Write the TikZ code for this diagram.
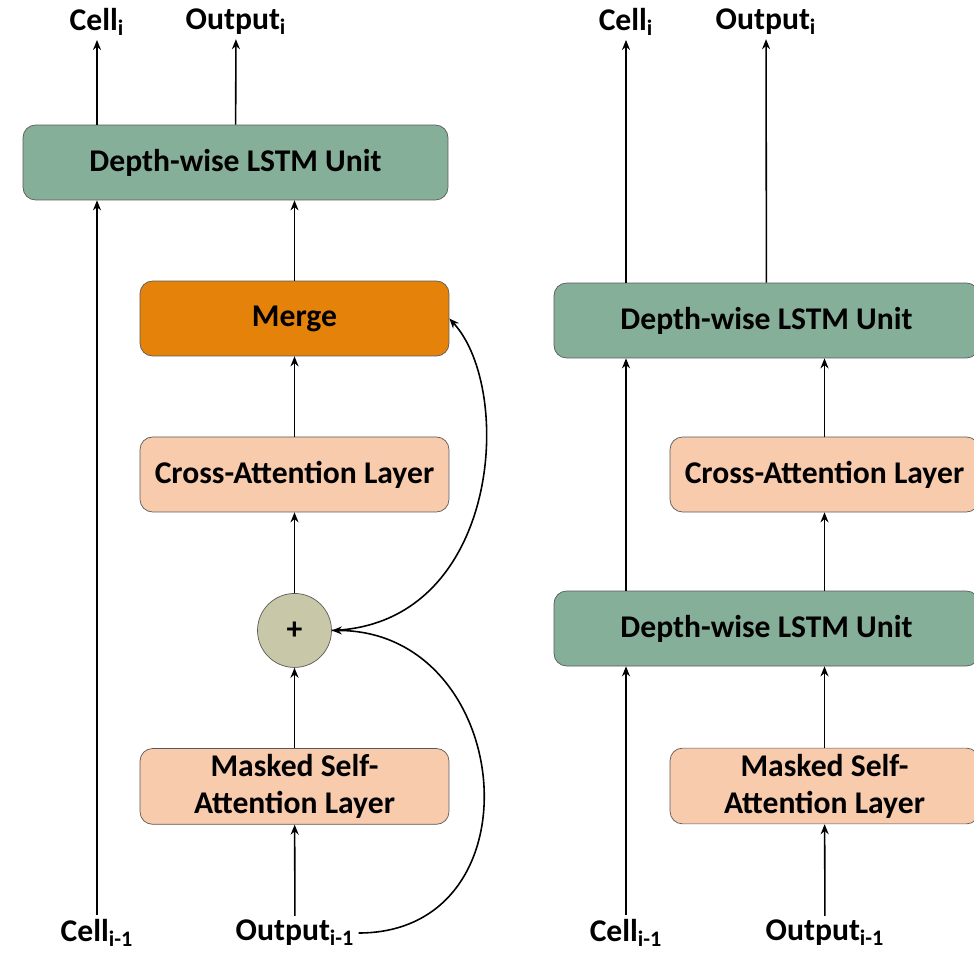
\documentclass[tikz,border=0pt]{standalone}
\usepackage{fontspec}
\setmainfont{Carlito}
\usetikzlibrary{positioning,arrows.meta}

\definecolor{lstmgreen}{RGB}{134,175,154}
\definecolor{mergeorange}{RGB}{229,130,10}
\definecolor{attnpeach}{RGB}{248,203,173}
\definecolor{addgrey}{RGB}{200,200,168}

\begin{document}
\begin{tikzpicture}[x=0.02cm, y=-0.02cm, node distance=3.12cm, on grid,
line width=0.9pt, >={Stealth[length=2mm,width=1.6mm]},
font=\fontsize{18}{21}\selectfont\bfseries,
unit/.style={rectangle, rounded corners=0.25cm, draw=gray!70!black, thin,
  fill=lstmgreen, minimum width=8.5cm, minimum height=1.5cm},
layer/.style={rectangle, rounded corners=0.25cm, draw=gray!70!black, thin,
  fill=attnpeach, minimum width=6.18cm, minimum height=1.5cm, align=center},
mergebox/.style={layer, fill=mergeorange},
add/.style={circle, draw=gray!70!black, thin, fill=addgrey, minimum size=1.48cm},
io/.style={inner sep=2pt}
]
    \useasboundingbox (0,0) rectangle (974,954);
    % left: decoder layer with merge
    \node[unit] (lstmA) at (235.5,162.5) {Depth-wise LSTM Unit};
    \node[mergebox] (mergeA) at (294.5,318.5) {Merge};
    \node[layer] (crossA) [below = of mergeA] {Cross-Attention Layer};
    \node[add] (addA) [below = of crossA] {+};
    \node[layer] (maskA) [below = of addA] {Masked Self-\\Attention Layer};
    \node[io] (cellA) at (97,933) {Cell\textsubscript{i-1}};
    \node[io] (outA) at (295,933) {Output\textsubscript{i-1}};
    \node[io] (cellAo) at (97,22) {Cell\textsubscript{i}};
    \node[io] (outAo) at (236,22) {Output\textsubscript{i}};
    \draw[->] (cellA) -- (cellA |- lstmA.south);
    \draw[->] (outA) -- (maskA);
    \draw[->] (maskA) -- (addA);
    \draw[->] (addA) -- (crossA);
    \draw[->] (crossA) -- (mergeA);
    \draw[->] (mergeA) -- (mergeA |- lstmA.south);
    \draw[->] (cellA |- lstmA.north) -- (cellAo);
    \draw[->] (lstmA) -- (outAo);
    \draw[->] (outA.east) to [out=0, in=0, looseness=1.55] (addA.east);
    \draw[->] (addA.east) .. controls (500,625) and (515,390) .. (mergeA.east);
    % right: stacked LSTM units
    \node[unit] (lstmB2) at (766.5,320.5) {Depth-wise LSTM Unit};
    \node[layer] (crossB) at (824.5,474.5) {Cross-Attention Layer};
    \node[unit] (lstmB1) at (766.5,628.5) {Depth-wise LSTM Unit};
    \node[layer] (maskB) at (824.5,786) {Masked Self-\\Attention Layer};
    \node[io] (cellB) at (626,933) {Cell\textsubscript{i-1}};
    \node[io] (outB) at (825,933) {Output\textsubscript{i-1}};
    \node[io] (cellBo) at (626,22) {Cell\textsubscript{i}};
    \node[io] (outBo) at (766,22) {Output\textsubscript{i}};
    \draw[->] (cellB) -- (cellB |- lstmB1.south);
    \draw[->] (cellB |- lstmB1.north) -- (cellB |- lstmB2.south);
    \draw[->] (cellB |- lstmB2.north) -- (cellBo);
    \draw[->] (outB) -- (maskB);
    \draw[->] (maskB) -- (maskB |- lstmB1.south);
    \draw[->] (maskB |- lstmB1.north) -- (crossB);
    \draw[->] (crossB) -- (crossB |- lstmB2.south);
    \draw[->] (lstmB2) -- (outBo);
\end{tikzpicture}
\end{document}
